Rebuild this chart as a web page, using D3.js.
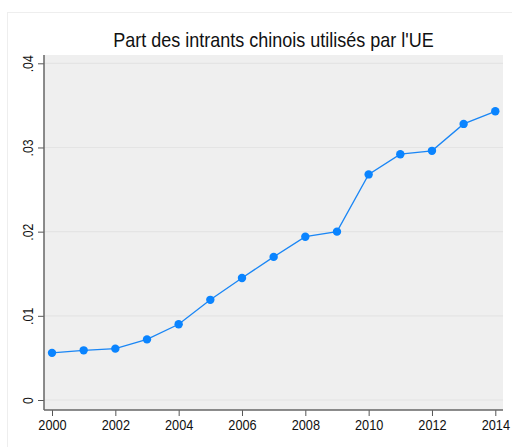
<!DOCTYPE html>
<html>
<head>
<meta charset="utf-8">
<script src="https://cdn.jsdelivr.net/npm/d3@7"></script>
<style>
  body { margin: 0; background: #fff; }
  svg { display: block; font-family: "Liberation Sans", Arial, Helvetica, sans-serif; }
</style>
</head>
<body>
<svg width="512" height="447"></svg>
<script>
// données
var years = [2000, 2001, 2002, 2003, 2004, 2005, 2006, 2007, 2008, 2009, 2010, 2011, 2012, 2013, 2014];
var part = [0.0056, 0.0059, 0.0061, 0.0072, 0.0090, 0.0119, 0.0145, 0.0170, 0.0194, 0.0200, 0.0268, 0.0292, 0.0296, 0.0328, 0.0343];
var yTicks = [0, 0.01, 0.02, 0.03, 0.04];
var xTicks = [2000, 2002, 2004, 2006, 2008, 2010, 2012, 2014];
var titre = "Part des intrants chinois utilisés par l'UE";

var svg = d3.select("svg"),
    width = +svg.attr("width"),
    height = +svg.attr("height");

// zone de tracé
var plot = {left: 44, right: 503, top: 55, bottom: 410};

var x = d3.scaleLinear().domain([2000, 2014]).range([52, 495.3]);
var y = d3.scaleLinear().domain([0, 0.04]).range([400, 63.3]);

// cadre extérieur (style Stata)
svg.append("rect")
    .attr("x", 7.5).attr("y", 12.5)
    .attr("width", width).attr("height", height)
    .attr("fill", "#fff")
    .attr("stroke", "#eeeeee");

svg.append("rect")
    .attr("x", plot.left).attr("y", plot.top)
    .attr("width", plot.right - plot.left)
    .attr("height", plot.bottom - plot.top)
    .attr("fill", "#efefef");

// grille
svg.append("g")
    .selectAll("line")
    .data(yTicks)
    .enter().append("line")
    .attr("x1", plot.left).attr("x2", plot.right)
    .attr("y1", function (d) { return y(d); })
    .attr("y2", function (d) { return y(d); })
    .attr("stroke", "#e4e4e4")
    .attr("stroke-width", 1.2);

// axe Y
var yAxis = svg.append("g")
    .attr("transform", "translate(" + plot.left + ",0)")
    .call(d3.axisLeft(y).tickValues(yTicks).tickSize(6).tickPadding(4)
        .tickFormat(function (d) { return d === 0 ? "0" : d3.format(".2f")(d).replace(/^0/, ""); }));
yAxis.select(".domain").remove();
yAxis.append("line")
    .attr("x1", 0).attr("x2", 0)
    .attr("y1", plot.top).attr("y2", plot.bottom)
    .attr("stroke", "#666").attr("stroke-width", 1.5);
yAxis.selectAll(".tick line").attr("stroke", "#555");
yAxis.selectAll(".tick text")
    .attr("font-size", 14)
    .attr("fill", "#111")
    .attr("text-anchor", "middle")
    .attr("x", null)
    .attr("transform", "translate(-16,0) rotate(-90) scale(0.88,1)")
    .attr("dy", "0.35em");

// axe X
var xAxis = svg.append("g")
    .attr("transform", "translate(0," + plot.bottom + ")")
    .call(d3.axisBottom(x).tickValues(xTicks).tickSize(6).tickPadding(3)
        .tickFormat(d3.format("d")));
xAxis.select(".domain").remove();
xAxis.append("line")
    .attr("x1", plot.left).attr("x2", plot.right)
    .attr("y1", 0).attr("y2", 0)
    .attr("stroke", "#666").attr("stroke-width", 1.5);
xAxis.selectAll(".tick line").attr("stroke", "#555");
xAxis.selectAll(".tick text")
    .attr("font-size", 15)
    .attr("transform", "scale(0.85,1)")
    .attr("fill", "#111");

// ligne + points
var data = years.map(function (d, i) { return {year: d, value: part[i]}; });

svg.append("path")
    .datum(data)
    .attr("fill", "none")
    .attr("stroke", "#1a86f5")
    .attr("stroke-width", 1.3)
    .attr("d", d3.line()
        .x(function (d) { return x(d.year); })
        .y(function (d) { return y(d.value); }));

svg.append("g")
    .selectAll("circle")
    .data(data)
    .enter().append("circle")
    .attr("cx", function (d) { return x(d.year); })
    .attr("cy", function (d) { return y(d.value); })
    .attr("r", 4.2)
    .attr("fill", "#0a84ff");

// titre
svg.append("text")
    .attr("transform", "translate(" + (plot.left + plot.right) / 2 + ",46.5) scale(0.9,1)")
    .attr("text-anchor", "middle")
    .attr("font-size", 20)
    .attr("fill", "#111")
    .text(titre);
</script>
</body>
</html>
